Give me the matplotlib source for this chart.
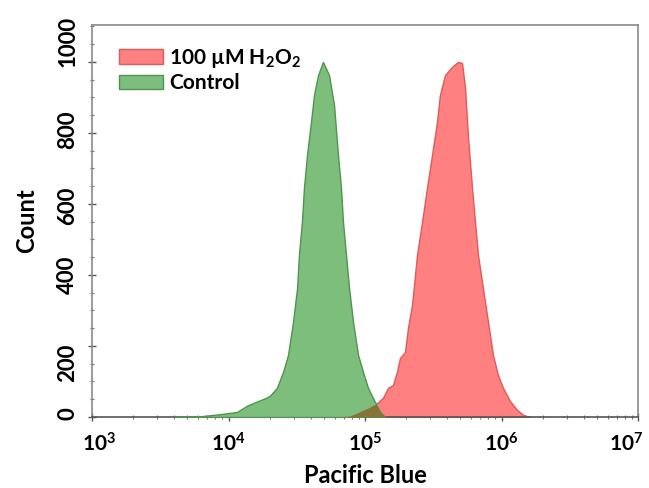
import matplotlib
matplotlib.use('Agg')
import matplotlib.pyplot as plt
from matplotlib.ticker import FixedLocator, AutoMinorLocator, LogLocator, NullFormatter
from matplotlib.transforms import ScaledTranslation
import numpy as np

# 読み取った値（Pacific Blue 強度とカウント）
control_x = [4000, 6200, 8700, 11500, 13700, 16500, 19100, 20100, 22600, 25100,
             27300, 29700, 31800, 32800, 34500, 35700, 37600, 40200, 42300, 45300,
             49200, 54500, 59300, 63400, 66700, 69000, 72600, 76400, 81700, 88900,
             96700, 105200, 118400, 128800, 140300]
control_y = [0, 2, 8, 14, 32, 45, 55, 60, 82, 127,
             175, 268, 363, 456, 549, 645, 738, 831, 907, 963,
             1000, 963, 879, 738, 645, 549, 456, 363, 268, 175,
             127, 82, 42, 15, 0]

h2o2_x = [66000, 77600, 91800, 108900, 122500, 135500, 147300, 160300, 171400, 180300,
          196300, 206500, 221000, 240300, 261600, 284400, 309700, 336700, 354000, 385500,
          433600, 479700, 514000, 540800, 568900, 608100, 639700, 672900, 731200, 796100,
          866000, 942400, 1025600, 1153300, 1300200, 1438800, 1618000]
h2o2_y = [0, 3, 15, 28, 39, 54, 82, 90, 127, 166,
          183, 251, 315, 456, 549, 645, 738, 831, 907, 963,
          986, 1000, 997, 927, 786, 645, 549, 456, 363, 268,
          175, 118, 82, 45, 20, 6, 0]

labels = [r'100 µM H$_\mathbf{2}$O$_\mathbf{2}$', 'Control']
x_ticks = [1e3, 1e4, 1e5, 1e6, 1e7]
x_ticklabels = [r'$\mathbf{10^{%d}}$' % e for e in range(3, 8)]
y_ticks = [0, 200, 400, 600, 800, 1000]

plt.rcParams['font.family'] = ['Lato', 'DejaVu Sans']
plt.rcParams['font.weight'] = 'bold'
plt.rcParams['mathtext.fontset'] = 'custom'
plt.rcParams['mathtext.rm'] = 'Lato:bold'
plt.rcParams['mathtext.bf'] = 'Lato:bold'
plt.rcParams['mathtext.it'] = 'Lato:bold'
plt.rcParams['mathtext.default'] = 'bf'

fig = plt.figure(figsize=(6.49, 4.88), dpi=100)
ax = fig.add_axes([92 / 649, 71 / 488, 546 / 649, 392 / 488])

red_fill, red_edge = '#ff8080', '#e05a5a'
green_fill, green_edge = '#7dbe7d', '#4f954f'

ax.fill_between(h2o2_x, h2o2_y, color=red_fill, edgecolor=red_edge, linewidth=1.0,
                label=labels[0], zorder=2)
ax.fill_between(control_x, control_y, color=green_fill, edgecolor=green_edge, linewidth=1.0,
                label=labels[1], zorder=3)

# 重なり部分（暗いオリーブ色）
grid = np.union1d(control_x, h2o2_x)
lg = np.log10(grid)
g_on = np.interp(lg, np.log10(control_x), control_y)
r_on = np.interp(lg, np.log10(h2o2_x), h2o2_y)
ax.fill_between(grid, np.minimum(g_on, r_on), color='#86733a', linewidth=0, zorder=4)

ax.set_xscale('log')
ax.set_xlim(1e3, 1e7)
ax.set_ylim(0, 1104)

ax.xaxis.set_major_locator(FixedLocator(x_ticks))
ax.set_xticklabels(x_ticklabels)
ax.xaxis.set_minor_locator(LogLocator(base=10, subs=np.arange(2, 10)))
ax.xaxis.set_minor_formatter(NullFormatter())
ax.yaxis.set_major_locator(FixedLocator(y_ticks))
ax.yaxis.set_minor_locator(AutoMinorLocator(4))

ax.tick_params(axis='both', which='major', direction='inout', length=6, width=1,
               color='#555555')
ax.tick_params(axis='x', which='major', labelsize=15, pad=8)
ax.tick_params(axis='y', which='major', labelsize=16, pad=7)
ax.tick_params(axis='both', which='minor', direction='inout', length=3, width=0.8,
               color='#777777')
for lab in ax.get_yticklabels():
    lab.set_rotation(90)
    lab.set_va('center')

# 元画像のずれに合わせてラベル位置を調整（px）
def shift(lab, dx, dy):
    lab.set_transform(lab.get_transform() + ScaledTranslation(dx / 100, dy / 100, fig.dpi_scale_trans))

xl = ax.get_xticklabels()
shift(xl[0], 7, 0)
shift(xl[-1], -12, 0)
yl = ax.get_yticklabels()
for lab, dy in zip(yl, [3, -17, 0, -2, 3, 20]):
    shift(lab, 0, dy)

for side in ['top', 'right', 'left', 'bottom']:
    ax.spines[side].set_color('#8a8a8a')
    ax.spines[side].set_linewidth(1.2)
ax.spines['bottom'].set_color('#555555')

ax.set_xlabel('Pacific Blue', fontsize=17, fontweight='bold', labelpad=6)
ax.set_ylabel('Count', fontsize=17, fontweight='bold', labelpad=14)

ax.legend(loc='upper left', bbox_to_anchor=(0.035, 0.965), frameon=False, fontsize=15,
          handlelength=2.1, handleheight=0.7, handletextpad=0.3, labelspacing=0.15,
          borderaxespad=0)

fig.savefig('out.png', dpi=100)
